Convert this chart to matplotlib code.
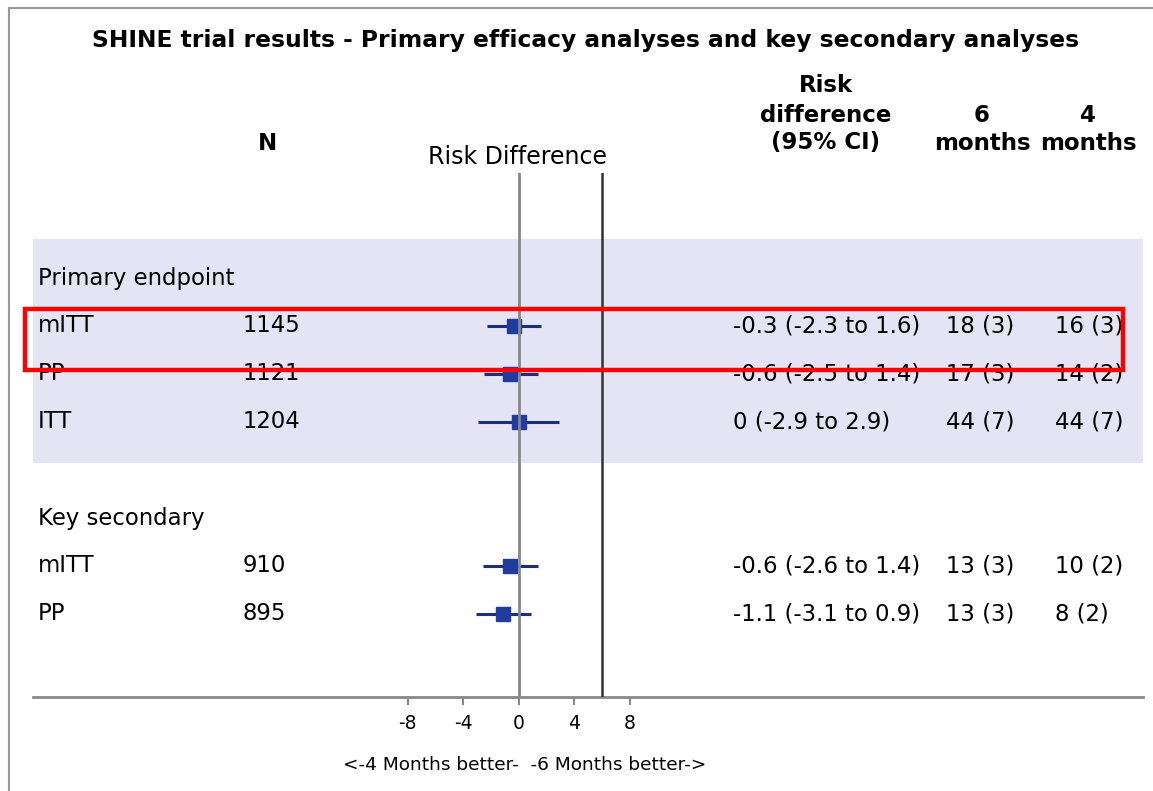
import matplotlib
matplotlib.use("Agg")
import matplotlib.pyplot as plt
import matplotlib.transforms as mtransforms
from matplotlib.lines import Line2D
from matplotlib.patches import Rectangle

plt.rcParams["axes.unicode_minus"] = False

# data
groups = ["Primary endpoint", "Key secondary"]
analysis = ["mITT", "PP", "ITT", "mITT", "PP"]
group_of = [0, 0, 0, 1, 1]
n_pat = [1145, 1121, 1204, 910, 895]
estimate = [-0.3, -0.6, 0, -0.6, -1.1]
ci_low = [-2.3, -2.5, -2.9, -2.6, -3.1]
ci_high = [1.6, 1.4, 2.9, 1.4, 0.9]
six_months = ["18 (3)", "17 (3)", "44 (7)", "13 (3)", "13 (3)"]
four_months = ["16 (3)", "14 (2)", "44 (7)", "10 (2)", "8 (2)"]
xticks = [-8, -4, 0, 4, 8]
margin = 6

W, H = 1153, 791
fig = plt.figure(figsize=(W / 100, H / 100), dpi=100)
fig.patch.set_facecolor("white")

# row layout: group header, its analyses, blank row between groups
header_rows = []
item_rows = []
row = 0
for g in range(len(groups)):
    if g > 0:
        row += 1
    header_rows.append(row)
    row += 1
    for i, gi in enumerate(group_of):
        if gi == g:
            item_rows.append(row)
            row += 1

ax = fig.add_axes([33 / W, (H - 697) / H, 1110 / W, 524 / H])
ax.set_xlim(-35, 45)
ax.set_ylim(419 / 48, -105 / 48)

for s in ["top", "left", "right"]:
    ax.spines[s].set_visible(False)
ax.spines["bottom"].set_color("#888888")
ax.spines["bottom"].set_linewidth(2)
ax.set_yticks([])
ax.set_xticks(xticks)
ax.tick_params(axis="x", direction="out", length=6, width=1.5, color="#888888",
               labelsize=13.5, pad=6)

# shaded primary block
prim_rows = [r for r, g in zip(item_rows, group_of) if g == 0]
ax.axhspan(header_rows[0] - 0.81, prim_rows[-1] + 0.85, xmin=0, xmax=1,
           color="#e4e4f4", zorder=0, lw=0)

ax.axvline(0, color="#888888", lw=2, zorder=3)
ax.axvline(margin, color="#333333", lw=1.8, zorder=3)

ax.hlines(item_rows, ci_low, ci_high, color="#1d2f7a", lw=2.2, zorder=2)
ax.plot(estimate, item_rows, "s", color="#1f3d9c", markersize=9.5, zorder=2)

tr = mtransforms.blended_transform_factory(fig.transFigure, ax.transData)
fs = 16.4
for g, r in zip(groups, header_rows):
    ax.text(38 / W, r, g, transform=tr, fontsize=fs, va="center", ha="left")
for i, r in enumerate(item_rows):
    ax.text(38 / W, r, analysis[i], transform=tr, fontsize=fs, va="center")
    ax.text(243 / W, r, str(n_pat[i]), transform=tr, fontsize=fs, va="center")
    rd = f"{estimate[i]:g} ({ci_low[i]:g} to {ci_high[i]:g})"
    ax.text(733 / W, r, rd, transform=tr, fontsize=fs, va="center")
    ax.text(946 / W, r, six_months[i], transform=tr, fontsize=fs, va="center")
    ax.text(1055 / W, r, four_months[i], transform=tr, fontsize=fs, va="center")

# red highlight box around the primary mITT row
ax.add_patch(Rectangle((25 / W, 0.646), (1123 - 25) / W, 1.27, transform=tr,
                       fill=False, edgecolor="#ff0000", lw=3.2, clip_on=False,
                       zorder=5))

def ftext(px, py, s, **kw):
    fig.text(px / W, 1 - py / H, s, ha="center", va="center", **kw)

ftext(586, 41, "SHINE trial results - Primary efficacy analyses and key secondary analyses",
      fontsize=16.8, fontweight="bold")
ftext(268, 143, "N", fontsize=16.5, fontweight="bold")
ftext(518, 157, "Risk Difference", fontsize=17)
ftext(826, 85, "Risk", fontsize=16.5, fontweight="bold")
ftext(826, 115, "difference", fontsize=16.5, fontweight="bold")
ftext(826, 143, "(95% CI)", fontsize=16.5, fontweight="bold")
ftext(982, 115, "6", fontsize=16.5, fontweight="bold")
ftext(982, 143, "months", fontsize=16.5, fontweight="bold")
ftext(1088, 115, "4", fontsize=16.5, fontweight="bold")
ftext(1088, 143, "months", fontsize=16.5, fontweight="bold")
ftext(525, 765, "<-4 Months better-  -6 Months better->", fontsize=13.3)

# outer frame edges
fig.add_artist(Line2D([9 / W, 9 / W], [1 - 8 / H, 0], transform=fig.transFigure,
                      color="#999999", lw=1.5))
fig.add_artist(Line2D([9 / W, 1], [1 - 8 / H, 1 - 8 / H], transform=fig.transFigure,
                      color="#999999", lw=1.5))

fig.savefig("out.png", dpi=100)
